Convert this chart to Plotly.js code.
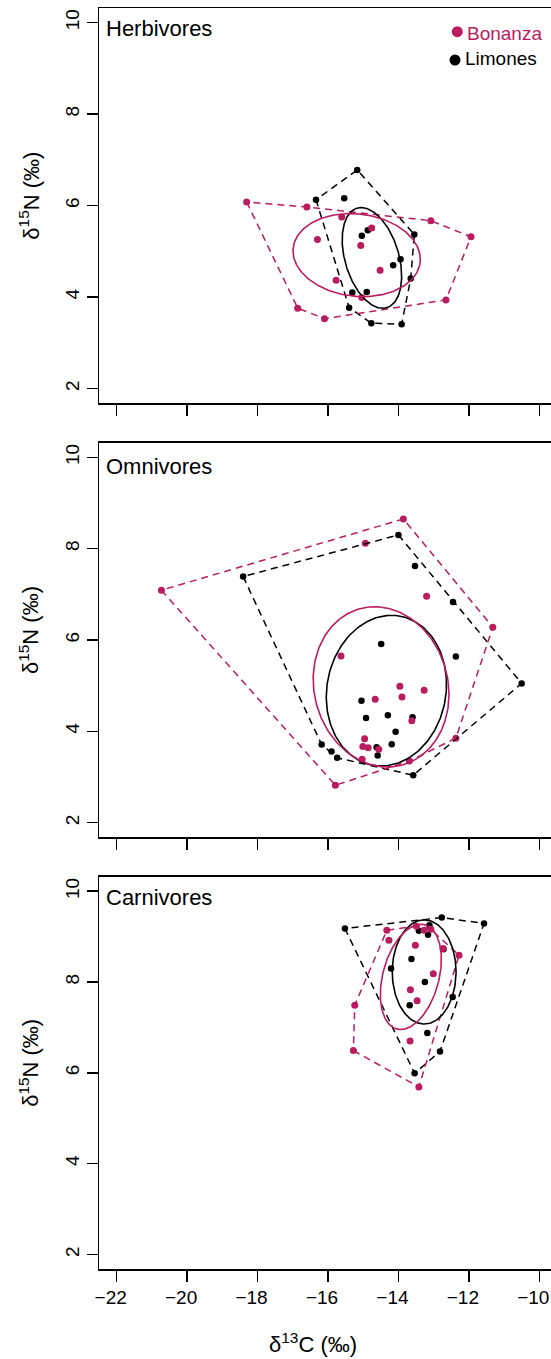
<!DOCTYPE html>
<html><head><meta charset="utf-8">
<script src="https://cdn.plot.ly/plotly-3.0.1.min.js"></script>
<style>html,body{margin:0;padding:0;overflow:hidden;background:#fff}</style>
</head><body><div id="chart" style="width:551px;height:1359px"></div>
<script>
// ---- data ----
const panels = ['Herbivores', 'Omnivores', 'Carnivores'];
const sites = ['Bonanza', 'Limones'];
const xTicks = [-22, -20, -18, -16, -14, -12, -10];
const yTicks = [2, 4, 6, 8, 10];

const herbBonX = [-18.31,-16.60,-15.61,-13.08,-11.94,-14.76,-16.30,-15.07,-14.52,-15.77,-15.04,-16.86,-16.10,-12.65];
const herbBonY = [6.08,5.97,5.75,5.67,5.32,5.51,5.26,5.13,4.59,4.37,3.99,3.76,3.53,3.94];
const herbLimX = [-15.17,-16.34,-15.54,-13.55,-14.87,-15.04,-13.94,-14.15,-13.65,-15.31,-14.90,-15.40,-14.77,-13.91];
const herbLimY = [6.78,6.13,6.16,5.37,5.46,5.34,4.83,4.70,4.41,4.10,4.11,3.77,3.43,3.41];

const omniBonX = [-13.86,-14.94,-20.73,-13.20,-11.32,-15.63,-13.96,-13.27,-13.90,-14.66,-13.62,-12.37,-14.96,-15.01,-14.86,-14.56,-15.03,-13.69,-15.79];
const omniBonY = [8.65,8.12,7.09,6.96,6.28,5.65,4.99,4.90,4.75,4.70,4.23,3.85,3.84,3.67,3.64,3.61,3.39,3.35,2.82];
const omniLimX = [-14.00,-18.41,-13.53,-12.45,-10.50,-12.37,-14.49,-15.05,-14.92,-14.30,-13.60,-14.08,-14.19,-16.18,-15.90,-15.74,-14.62,-14.59,-13.58];
const omniLimY = [8.30,7.39,7.62,6.83,5.05,5.64,5.91,4.67,4.29,4.35,4.31,3.99,3.72,3.71,3.56,3.42,3.65,3.47,3.04];

const carnBonX = [-14.33,-14.27,-13.49,-13.27,-13.08,-13.52,-12.73,-12.28,-13.01,-13.66,-13.47,-15.24,-13.67,-15.28,-13.42];
const carnBonY = [9.14,8.92,9.23,9.14,9.16,8.81,8.74,8.59,8.18,7.83,7.59,7.49,6.70,6.49,5.69];
const carnLimX = [-15.52,-12.77,-11.57,-13.42,-13.16,-13.12,-13.63,-14.21,-13.25,-12.46,-13.68,-13.18,-12.82,-13.54,-12.72];
const carnLimY = [9.18,9.42,9.29,9.13,9.04,9.25,8.51,8.30,8.00,7.67,7.49,6.88,6.47,5.99,8.72];

const data = [
  {bx: herbBonX, by: herbBonY, lx: herbLimX, ly: herbLimY},
  {bx: omniBonX, by: omniBonY, lx: omniLimX, ly: omniLimY},
  {bx: carnBonX, by: carnBonY, lx: carnLimX, ly: carnLimY}
];

const MAG = '#BA1C60', BLK = '#000000';
const FONT = 'Liberation Sans, Arial, sans-serif';

// ---- geometry helpers ----
function hull(xs, ys) {
  const pts = xs.map((x, i) => [x, ys[i]]).sort((a, b) => a[0] - b[0] || a[1] - b[1]);
  const cross = (o, a, b) => (a[0]-o[0])*(b[1]-o[1]) - (a[1]-o[1])*(b[0]-o[0]);
  const lower = [], upper = [];
  for (const p of pts) { while (lower.length >= 2 && cross(lower[lower.length-2], lower[lower.length-1], p) <= 0) lower.pop(); lower.push(p); }
  for (let i = pts.length-1; i >= 0; i--) { const p = pts[i]; while (upper.length >= 2 && cross(upper[upper.length-2], upper[upper.length-1], p) <= 0) upper.pop(); upper.push(p); }
  const h = lower.slice(0, -1).concat(upper.slice(0, -1));
  h.push(h[0]);
  return {x: h.map(p => p[0]), y: h.map(p => p[1])};
}
// SIBER small-sample corrected standard ellipse (SEAc)
function seac(xs, ys) {
  const n = xs.length;
  const mx = xs.reduce((a, b) => a + b, 0) / n, my = ys.reduce((a, b) => a + b, 0) / n;
  let sxx = 0, syy = 0, sxy = 0;
  for (let i = 0; i < n; i++) { const dx = xs[i]-mx, dy = ys[i]-my; sxx += dx*dx; syy += dy*dy; sxy += dx*dy; }
  sxx /= (n-1); syy /= (n-1); sxy /= (n-1);
  const tr = sxx + syy, det = sxx*syy - sxy*sxy;
  const disc = Math.sqrt(Math.max(tr*tr/4 - det, 0));
  const l1 = tr/2 + disc, l2 = tr/2 - disc;
  const th = 0.5 * Math.atan2(2*sxy, sxx - syy);
  const f = Math.sqrt((n-1)/(n-2));
  const a = f*Math.sqrt(l1), b = f*Math.sqrt(Math.max(l2, 0));
  const ex = [], ey = [];
  for (let k = 0; k <= 240; k++) {
    const t = 2*Math.PI*k/240;
    ex.push(mx + a*Math.cos(t)*Math.cos(th) - b*Math.sin(t)*Math.sin(th));
    ey.push(my + a*Math.cos(t)*Math.sin(th) + b*Math.sin(t)*Math.cos(th));
  }
  return {x: ex, y: ey};
}

// ---- layout geometry (pixels) ----
const W = 551, H = 1359, ML = 99, MT = 8, MB = 90;
const plotW = W - ML, plotH = H - MT - MB, plotBottom = H - MB;
const px2x = p => (p - ML) / plotW;
const px2y = p => (plotBottom - p) / plotH;
const panelTop = [8, 442.7, 876.7], panelBot = [403.3, 837.3, 1269];
const xRange = [-22.5026, -9.668];
const yRange = [1.68, 10.32];

const traces = [];
const layout = {
  width: W, height: H, margin: {l: ML, r: 0, t: MT, b: MB},
  paper_bgcolor: '#fff', plot_bgcolor: '#fff', showlegend: false,
  font: {family: FONT, color: '#000'},
  annotations: [], shapes: []
};

panels.forEach((name, i) => {
  const s = i === 0 ? '' : String(i + 1);
  const xa = 'x' + s, ya = 'y' + s;
  const d = data[i];
  traces.push({x: d.lx, y: d.ly, xaxis: xa, yaxis: ya, type: 'scatter', mode: 'markers', name: 'Limones',
    marker: {color: BLK, size: 6.5}, hoverinfo: 'skip'});
  traces.push({x: d.bx, y: d.by, xaxis: xa, yaxis: ya, type: 'scatter', mode: 'markers', name: 'Bonanza',
    marker: {color: MAG, size: 7}, hoverinfo: 'skip'});
  const hl = hull(d.lx, d.ly), hb = hull(d.bx, d.by);
  traces.push({x: hl.x, y: hl.y, xaxis: xa, yaxis: ya, type: 'scatter', mode: 'lines',
    line: {color: BLK, width: 1.5, dash: '7px,5px'}, hoverinfo: 'skip'});
  traces.push({x: hb.x, y: hb.y, xaxis: xa, yaxis: ya, type: 'scatter', mode: 'lines',
    line: {color: MAG, width: 1.5, dash: '7px,5px'}, hoverinfo: 'skip'});
  const el = seac(d.lx, d.ly), eb = seac(d.bx, d.by);
  traces.push({x: el.x, y: el.y, xaxis: xa, yaxis: ya, type: 'scatter', mode: 'lines',
    line: {color: BLK, width: 1.6}, hoverinfo: 'skip'});
  traces.push({x: eb.x, y: eb.y, xaxis: xa, yaxis: ya, type: 'scatter', mode: 'lines',
    line: {color: MAG, width: 1.6}, hoverinfo: 'skip'});

  const xax = {
    domain: [0, 1], anchor: ya, range: xRange, tickvals: xTicks,
    ticks: 'outside', ticklen: 11, tickwidth: 1.5, tickcolor: '#000',
    showline: true, linewidth: 1.5, linecolor: '#000', mirror: true,
    showgrid: false, zeroline: false, fixedrange: true,
    showticklabels: i === 2
  };
  if (i === 2) {
    xax.ticktext = xTicks.map(v => v < 0 ? '\u2212' + Math.abs(v) : String(v));
    xax.tickfont = {size: 19, family: FONT, color: '#000'};
    xax.ticklabelshift = -6;
    xax.ticklabeloverflow = 'allow';
  }
  layout['xaxis' + s] = xax;
  layout['yaxis' + s] = {
    domain: [px2y(panelBot[i]), px2y(panelTop[i])], anchor: xa, range: yRange, tickvals: yTicks,
    ticks: 'outside', ticklen: 11, tickwidth: 1.5, tickcolor: '#000', tickangle: -90,
    showline: true, linewidth: 1.5, linecolor: '#000', mirror: false,
    showgrid: false, zeroline: false, fixedrange: true,
    tickfont: {size: 19, family: FONT, color: '#000'}
  };
  // panel label
  const labY = [28.7, 466.3, 897.3][i];
  layout.annotations.push({text: name, xref: 'paper', yref: 'paper', x: px2x(103.5), y: px2y(labY),
    xanchor: 'left', yanchor: 'middle', showarrow: false, font: {size: 22, family: FONT, color: '#000'}});
  // y axis title
  const midY = (panelTop[i] + panelBot[i]) / 2 - 10;
  layout.annotations.push({text: '\u03b4<sup>15</sup>N (\u2030)', xref: 'paper', yref: 'paper', x: px2x(29), y: px2y(midY),
    xanchor: 'center', yanchor: 'middle', textangle: -90, showarrow: false, font: {size: 22, family: FONT, color: '#000'}});
});

// x axis title
layout.annotations.push({text: '\u03b4<sup>13</sup>C (\u2030)', xref: 'paper', yref: 'paper', x: px2x(313), y: px2y(1343),
  xanchor: 'center', yanchor: 'middle', showarrow: false, font: {size: 22, family: FONT, color: '#000'}});

// legend (top panel)
const legend = [{name: sites[0], color: MAG, cx: 457.3, cy: 31.7, tx: 464.7, ty: 33.7},
                {name: sites[1], color: BLK, cx: 455, cy: 60, tx: 463, ty: 59}];
legend.forEach(l => {
  const r = 5.5;
  layout.shapes.push({type: 'circle', xref: 'paper', yref: 'paper', x0: px2x(l.cx - r), x1: px2x(l.cx + r),
    y0: px2y(l.cy + r), y1: px2y(l.cy - r), fillcolor: l.color, line: {width: 0}});
  layout.annotations.push({text: l.name, xref: 'paper', yref: 'paper', x: px2x(l.tx), y: px2y(l.ty),
    xanchor: 'left', yanchor: 'middle', showarrow: false, font: {size: 19, family: FONT, color: l.color}});
});

Plotly.newPlot('chart', traces, layout, {staticPlot: true, displayModeBar: false});
</script></body></html>
